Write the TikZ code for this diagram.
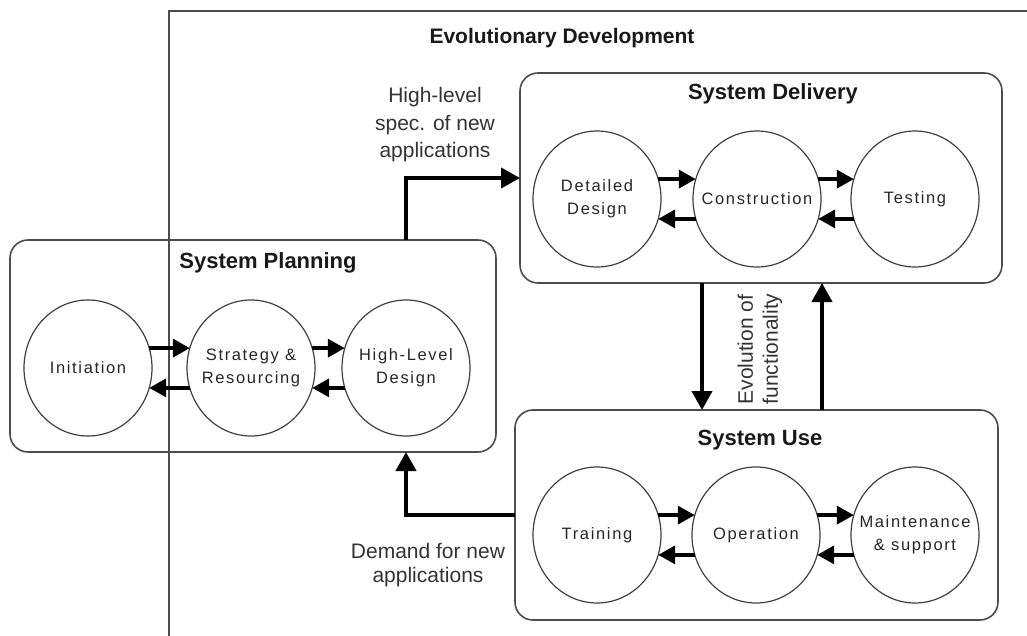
\documentclass[tikz,border=0pt]{standalone}
\usepackage{fontspec}
\setmainfont{Liberation Sans}
\newfontfamily\spacedfont[LetterSpace=10]{Liberation Sans}
\usetikzlibrary{shapes.geometric,arrows.meta}
\begin{document}
\begin{tikzpicture}[x=1pt,y=-1pt,
 box/.style={draw=black!70, line width=1.6pt, rounded corners=18pt, outer sep=0pt, inner sep=0pt},
 circtext/.style={font=\spacedfont\fontsize{16.5}{23}\selectfont, text=black!85, align=center, inner sep=0pt},
 circ/.style={ellipse, draw=black!75, line width=1.2pt, minimum width=128pt, minimum height=136pt, inner sep=0pt, outer sep=0pt, label={[circtext]center:#1}},
 title/.style={font=\bfseries\fontsize{22}{26}\selectfont, text=black!90},
 lbl/.style={align=center, text=black!80, inner sep=0pt},
 smallarr/.style={line width=3.5pt, -{Triangle[length=17pt,width=18pt]}},
 bigarr/.style={line width=4pt, -{Triangle[length=19pt,width=20pt]}},
]
\useasboundingbox (0,0) rectangle (1027,636);
% Evolutionary Development boundary
\draw[draw=black!70, line width=1.8pt] (169,636) -- (169,11) -- (1027,11);
\node[title, font=\bfseries\fontsize{21}{26}\selectfont] (evotitle) at (562,38) {Evolutionary Development};

% boxes
\node[box, minimum width=486pt, minimum height=212pt] (plan) at (253,346) {};
\node[box, minimum width=482pt, minimum height=210pt] (deliv) at (761,178) {};
\node[box, minimum width=483pt, minimum height=210pt] (use) at (756.5,515) {};

\node[title] (plantitle) at (268,263) {System Planning};
\node[title] (delivtitle) at (773,94) {System Delivery};
\node[title] (usetitle) at (760,440) {System Use};

% circles: planning
\node[circ={Initiation}] (init) at (88,368) {};
\node[circ={Strategy \&\\Resourcing}] (strat) at (251,368) {};
\node[circ={High-Level\\Design}] (hld) at (406,368) {};
% delivery
\node[circ={Detailed\\Design}] (dd) at (597,199) {};
\node[circ={Construction}] (cons) at (757,199) {};
\node[circ={Testing}] (test) at (915,199) {};
% use
\node[circ={Training}] (train) at (597,535) {};
\node[circ={Operation}] (oper) at (756,535) {};
\node[circ={Maintenance\\\& support}] (maint) at (915,535) {};

% small arrows
\foreach \a/\b in {init/strat, strat/hld, dd/cons, cons/test, train/oper, oper/maint}{
  \draw[smallarr] (\a.18) -- (\b.162);
  \draw[smallarr] (\b.198) -- (\a.-18);
}

% big connectors
\draw[bigarr] (plan.north -| 406,0) |- (deliv.west);
\draw[bigarr] (use.west) -| (plan.south -| 406,0);
\draw[bigarr] (deliv.south -| 702,0) -- (use.north -| 702,0);
\draw[bigarr] (use.north -| 822,0) -- (deliv.south -| 822,0);

% labels
\node[lbl, font=\fontsize{21}{27.5}\selectfont] (speclbl) at (435,125) {High-level\\spec. of new\\applications};
\node[lbl, font=\fontsize{21}{24}\selectfont] (demlbl) at (428,565) {Demand for new\\applications};
\node[lbl, align=left, rotate=90, font=\fontsize{21}{25}\selectfont] (evolbl) at (760,349) {Evolution of\\functionality};
\end{tikzpicture}
\end{document}
